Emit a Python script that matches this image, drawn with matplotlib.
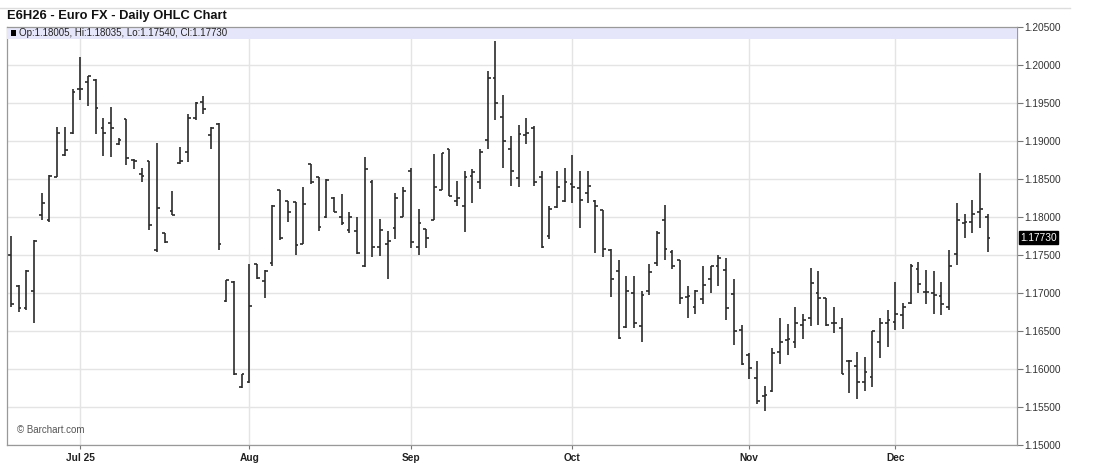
import matplotlib
matplotlib.use("Agg")
import matplotlib.pyplot as plt
from matplotlib.patches import Rectangle
import numpy as np

plt.rcParams['font.family'] = ['Liberation Sans', 'DejaVu Sans']

# ---- data ----
opens = [1.1750, 1.1709, 1.1680, 1.1702, 1.1803, 1.1796, 1.1853, 1.1882, 1.1911, 1.1968,
         1.1978, 1.1980, 1.1917, 1.1924, 1.1896, 1.1929, 1.1875, 1.1856, 1.1874, 1.1757,
         1.1779, 1.1808, 1.1871, 1.1885, 1.1930, 1.1951, 1.1908, 1.1923, 1.1690, 1.1715,
         1.1576, 1.1583, 1.1738, 1.1716, 1.1739, 1.1836, 1.1821, 1.1820, 1.1765, 1.1870,
         1.1852, 1.1800, 1.1825, 1.1800, 1.1783, 1.1781, 1.1736, 1.1846, 1.1761, 1.1765,
         1.1785, 1.1800, 1.1860, 1.1760, 1.1784, 1.1796, 1.1836, 1.1889, 1.1821, 1.1815,
         1.1854, 1.1846, 1.1901, 1.1983, 1.1932, 1.1890, 1.1851, 1.1908, 1.1917, 1.1852,
         1.1775, 1.1813, 1.1821, 1.1843, 1.1838, 1.1831, 1.1821, 1.1809, 1.1757, 1.1729,
         1.1655, 1.1700, 1.1656, 1.1703, 1.1739, 1.1796, 1.1754, 1.1743, 1.1695, 1.1682,
         1.1692, 1.1719, 1.1735, 1.1730, 1.1699, 1.1651, 1.1619, 1.1588, 1.1564, 1.1571,
         1.1623, 1.1638, 1.1636, 1.1658, 1.1667, 1.1700, 1.1693, 1.1661, 1.1654, 1.1611,
         1.1604, 1.1583, 1.1589, 1.1636, 1.1661, 1.1662, 1.1671, 1.1687, 1.1731, 1.1701,
         1.1700, 1.1696, 1.1682, 1.1751, 1.1792, 1.1794, 1.1806, 1.18005]
highs = [1.1775, 1.1710, 1.1730, 1.1770, 1.1831, 1.1855, 1.1918, 1.1918, 1.1969, 1.2011,
         1.1986, 1.1981, 1.1930, 1.1945, 1.1904, 1.1929, 1.1876, 1.1864, 1.1874, 1.1897,
         1.1779, 1.1834, 1.1892, 1.1935, 1.1951, 1.1959, 1.1919, 1.1924, 1.1717, 1.1716,
         1.1593, 1.1738, 1.1738, 1.1730, 1.1816, 1.1836, 1.1821, 1.1820, 1.1839, 1.1870,
         1.1852, 1.1850, 1.1826, 1.1830, 1.1807, 1.1800, 1.1879, 1.1849, 1.1798, 1.1781,
         1.1832, 1.1840, 1.1865, 1.1811, 1.1784, 1.1883, 1.1884, 1.1890, 1.1848, 1.1861,
         1.1863, 1.1889, 1.1992, 1.2032, 1.1960, 1.1906, 1.1921, 1.1930, 1.1920, 1.1861,
         1.1815, 1.1861, 1.1864, 1.1882, 1.1860, 1.1860, 1.1822, 1.1809, 1.1758, 1.1743,
         1.1723, 1.1723, 1.1702, 1.1738, 1.1782, 1.1816, 1.1756, 1.1744, 1.1709, 1.1704,
         1.1736, 1.1736, 1.1750, 1.1746, 1.1719, 1.1658, 1.1621, 1.1610, 1.1577, 1.1627,
         1.1667, 1.1659, 1.1682, 1.1673, 1.1733, 1.1729, 1.1694, 1.1681, 1.1667, 1.1612,
         1.1623, 1.1616, 1.1650, 1.1667, 1.1677, 1.1715, 1.1687, 1.1738, 1.1741, 1.1730,
         1.1729, 1.1714, 1.1757, 1.1818, 1.1804, 1.1822, 1.1858, 1.18035]
lows = [1.1682, 1.1675, 1.1678, 1.1661, 1.1796, 1.1794, 1.1852, 1.1880, 1.1909, 1.1954,
        1.1946, 1.1909, 1.1880, 1.1879, 1.1895, 1.1868, 1.1863, 1.1846, 1.1783, 1.1754,
        1.1766, 1.1802, 1.1870, 1.1872, 1.1928, 1.1935, 1.1890, 1.1757, 1.1688, 1.1592,
        1.1575, 1.1582, 1.1719, 1.1693, 1.1736, 1.1770, 1.1793, 1.1750, 1.1765, 1.1844,
        1.1781, 1.1799, 1.1806, 1.1790, 1.1779, 1.1751, 1.1734, 1.1748, 1.1749, 1.1719,
        1.1771, 1.1800, 1.1759, 1.1750, 1.1759, 1.1796, 1.1835, 1.1828, 1.1814, 1.1780,
        1.1819, 1.1837, 1.1889, 1.1927, 1.1864, 1.1841, 1.1839, 1.1896, 1.1841, 1.1759,
        1.1771, 1.1812, 1.1820, 1.1819, 1.1786, 1.1818, 1.1753, 1.1748, 1.1695, 1.1640,
        1.1654, 1.1654, 1.1636, 1.1697, 1.1736, 1.1743, 1.1731, 1.1686, 1.1667, 1.1672,
        1.1686, 1.1700, 1.1709, 1.1664, 1.1632, 1.1605, 1.1587, 1.1554, 1.1545, 1.1570,
        1.1606, 1.1618, 1.1627, 1.1639, 1.1657, 1.1658, 1.1657, 1.1647, 1.1593, 1.1569,
        1.1560, 1.1571, 1.1576, 1.1614, 1.1629, 1.1651, 1.1653, 1.1686, 1.1700, 1.1686,
        1.1673, 1.1671, 1.1677, 1.1737, 1.1773, 1.1779, 1.1785, 1.17540]
closes = [1.1685, 1.1680, 1.1729, 1.1769, 1.1819, 1.1854, 1.1911, 1.1888, 1.1964, 1.1969,
          1.1985, 1.1943, 1.1911, 1.1917, 1.1901, 1.1877, 1.1874, 1.1854, 1.1789, 1.1812,
          1.1767, 1.1803, 1.1874, 1.1930, 1.1950, 1.1942, 1.1917, 1.1765, 1.1717, 1.1593,
          1.1593, 1.1683, 1.1720, 1.1729, 1.1815, 1.1773, 1.1807, 1.1763, 1.1817, 1.1846,
          1.1787, 1.1849, 1.1806, 1.1792, 1.1800, 1.1753, 1.1863, 1.1760, 1.1783, 1.1768,
          1.1825, 1.1834, 1.1767, 1.1792, 1.1772, 1.1839, 1.1884, 1.1828, 1.1825, 1.1852,
          1.1859, 1.1886, 1.1983, 1.1950, 1.1900, 1.1860, 1.1909, 1.1910, 1.1846, 1.1760,
          1.1811, 1.1839, 1.1846, 1.1839, 1.1822, 1.1841, 1.1814, 1.1758, 1.1718, 1.1641,
          1.1703, 1.1660, 1.1697, 1.1727, 1.1779, 1.1758, 1.1736, 1.1693, 1.1696, 1.1703,
          1.1711, 1.1735, 1.1746, 1.1680, 1.1650, 1.1607, 1.1601, 1.1558, 1.1566, 1.1621,
          1.1636, 1.1639, 1.1661, 1.1664, 1.1713, 1.1694, 1.1658, 1.1661, 1.1594, 1.1610,
          1.1583, 1.1596, 1.1650, 1.1660, 1.1664, 1.1672, 1.1682, 1.1736, 1.1712, 1.1701,
          1.1698, 1.1685, 1.1736, 1.1796, 1.1794, 1.1804, 1.1810, 1.17730]

month_labels = ["Jul 25", "Aug", "Sep", "Oct", "Nov", "Dec"]
month_start_idx = [9, 31, 52, 73, 96, 115]   # first trading bar of each month
y_ticks = [1.150, 1.155, 1.160, 1.165, 1.170, 1.175, 1.180, 1.185, 1.190, 1.195, 1.200, 1.205]

title = "E6H26 - Euro FX - Daily OHLC Chart"

# ---- figure ----
W, H = 1115, 475
fig = plt.figure(figsize=(W / 100, H / 100), dpi=100)
fig.patch.set_facecolor("white")

ax_l, ax_r, ax_t, ax_b = 7, 1017, 27, 445
ax = fig.add_axes([ax_l / W, 1 - ax_b / H, (ax_r - ax_l) / W, (ax_b - ax_t) / H])

n = len(opens)
x = np.arange(n)
tick_w = 0.36
bar_color = "#2b2b2b"
lw = 1.2

ax.vlines(x, lows, highs, color=bar_color, linewidth=lw)
ax.hlines(opens, x - tick_w, x, color=bar_color, linewidth=lw)
ax.hlines(closes, x, x + tick_w, color=bar_color, linewidth=lw)

ax.set_xlim(-0.52, 130.82)
ax.set_ylim(1.150, 1.205)

# grid
ax.set_yticks(y_ticks)
ax.set_xticks(month_start_idx)
ax.grid(True, color="#e4e4e4", linewidth=1.0)
ax.set_axisbelow(True)

ax.yaxis.tick_right()
ax.set_yticklabels([f"{v:.5f}" for v in y_ticks])
ax.tick_params(axis="y", which="both", right=True, left=False, length=4, width=0.8,
               color="#777777", labelsize=7.3, labelcolor="#333333", pad=1)
ax.set_xticklabels(month_labels)
ax.tick_params(axis="x", length=3, width=0.8, color="#777777", labelsize=7.3,
               labelcolor="#222222", pad=3)
for lbl in ax.get_xticklabels():
    lbl.set_fontweight("bold")

for side in ["left", "bottom", "right", "top"]:
    ax.spines[side].set_color("#999999")
    ax.spines[side].set_linewidth(0.9)
ax.spines["top"].set_visible(False)

# info band at top of plot
band_h = 12 / (ax_b - ax_t)
ax.add_patch(Rectangle((0, 1 - band_h), 1, band_h, transform=ax.transAxes,
                       facecolor="#e6e6fa", edgecolor="none", zorder=3))
ax.plot([0, 1], [1, 1], transform=ax.transAxes, color="#999999", linewidth=0.9,
        clip_on=False, zorder=4)
ax.add_patch(Rectangle((0.0035, 1 - band_h * 0.78), 0.0055, band_h * 0.55,
                       transform=ax.transAxes, facecolor="black", edgecolor="none", zorder=4))
info = f"Op:{opens[-1]:.5f}, Hi:{highs[-1]:.5f}, Lo:{lows[-1]:.5f}, Cl:{closes[-1]:.5f}"
ax.text(0.0115, 1 - band_h / 2, info, transform=ax.transAxes, fontsize=7.0,
        color="#222222", va="center", ha="left", zorder=5)

# last price box
ax.annotate(f"{closes[-1]:.5f}", xy=(1, closes[-1]), xycoords=("axes fraction", "data"),
            xytext=(2.5, 0), textcoords="offset points", fontsize=7.3, color="white",
            va="center", ha="left",
            bbox=dict(boxstyle="square,pad=0.12", facecolor="black", edgecolor="black"),
            annotation_clip=False, zorder=6)

# watermark
ax.text(0.0095, 0.025, "© Barchart.com", transform=ax.transAxes, fontsize=7,
        color="#555555", va="bottom", ha="left")

# title and top rule
fig.text(7 / W, 1 - 16 / H, title, fontsize=9.3, fontweight="bold", color="#111111",
         va="center", ha="left")
fig.add_artist(plt.Line2D([0, 1070 / W], [1 - 8 / H, 1 - 8 / H], color="#dddddd",
                          linewidth=1.0, transform=fig.transFigure))

fig.savefig("out.png", dpi=100, facecolor="white")
